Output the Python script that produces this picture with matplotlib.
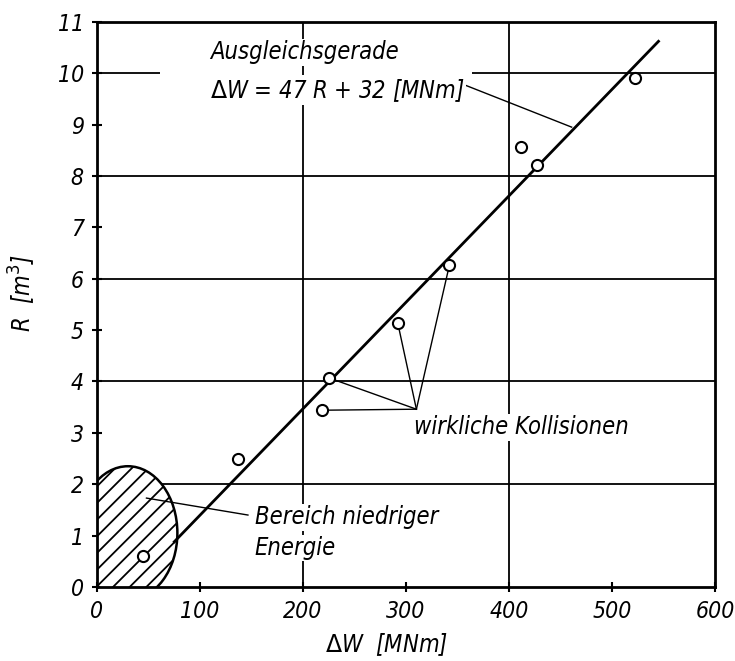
import matplotlib.pyplot as plt
from matplotlib.patches import Ellipse

# Messpunkte (wirkliche Kollisionen + Bereich niedriger Energie)
dW = [45, 137, 218, 225, 292, 342, 412, 427, 522]
R = [0.6, 2.5, 3.44, 4.07, 5.13, 6.26, 8.56, 8.21, 9.9]

# Ausgleichsgerade (wie gezeichnet)
fit_W = [75, 545]
fit_R = [0.88, 10.62]

# Gitter
hgrid = [2, 4, 6, 8]
vgrid = [200, 400]

xticks = [0, 100, 200, 300, 400, 500, 600]
yticks = list(range(0, 12))

font = dict(family='DejaVu Sans', style='oblique', stretch='condensed')
plt.rcParams['hatch.linewidth'] = 1.3

fig = plt.figure(figsize=(7.35, 6.61), dpi=100)
ax = fig.add_axes([0.132, 0.112, 0.841, 0.855])
ax.set_xlim(0, 600)
ax.set_ylim(0, 11)

for y in hgrid:
    ax.axhline(y, color='black', lw=1.3, zorder=1)
ax.hlines(10, 0, 61, color='black', lw=1.3, zorder=1)
ax.hlines(10, 364, 600, color='black', lw=1.3, zorder=1)
for x in vgrid:
    ax.axvline(x, color='black', lw=1.3, zorder=1)

# schraffierter Bereich
ell = Ellipse((30, 1.05), 96, 2.6, facecolor='white', edgecolor='black',
              hatch='//', lw=1.8, zorder=2)
ax.add_patch(ell)

ax.plot(fit_W, fit_R, color='black', lw=2, zorder=3)

# Hinweislinien
hub = (310, 3.46)
for i in [2, 3, 4, 5]:
    ax.plot([hub[0], dW[i]], [hub[1], R[i]], color='black', lw=1, zorder=3)
ax.plot([357, 460.7], [9.77, 8.95], color='black', lw=1, zorder=3)
ax.plot([146.5, 48], [1.40, 1.73], color='black', lw=1, zorder=3)

ax.plot(dW, R, 'o', ms=8, mfc='white', mec='black', mew=1.5, zorder=4)

bb = dict(facecolor='white', edgecolor='none', pad=1)
fs = 17
ax.text(110, 10.41, 'Ausgleichsgerade', fontsize=fs, va='center', bbox=bb, **font)
ax.text(110, 9.67, r'$\Delta$W = 47 R + 32 [MNm]', fontsize=fs, va='center', bbox=bb, **font)
ax.text(308, 3.11, 'wirkliche Kollisionen', fontsize=fs, va='center', bbox=bb, **font)
ax.text(153, 1.36, 'Bereich niedriger', fontsize=fs, va='center', bbox=bb, **font)
ax.text(153, 0.76, 'Energie', fontsize=fs, va='center', bbox=bb, **font)

ax.set_xticks(xticks)
ax.set_yticks(yticks)
ax.set_xticklabels([str(t) for t in xticks], fontsize=16.5, **font)
ax.set_yticklabels([str(t) for t in yticks], fontsize=16.5, **font)
ax.tick_params(direction='inout', length=7, width=1.5, pad=6)
for s in ax.spines.values():
    s.set_linewidth(2)

ax.set_xlabel(r'$\Delta$W  [MNm]', fontsize=fs, **font)
ax.set_ylabel(r'R  [m$^3$]', fontsize=fs, **font)
ax.xaxis.set_label_coords(0.469, -0.078)
ax.yaxis.set_label_coords(-0.095, 0.52)

fig.savefig('out.png', dpi=100)
